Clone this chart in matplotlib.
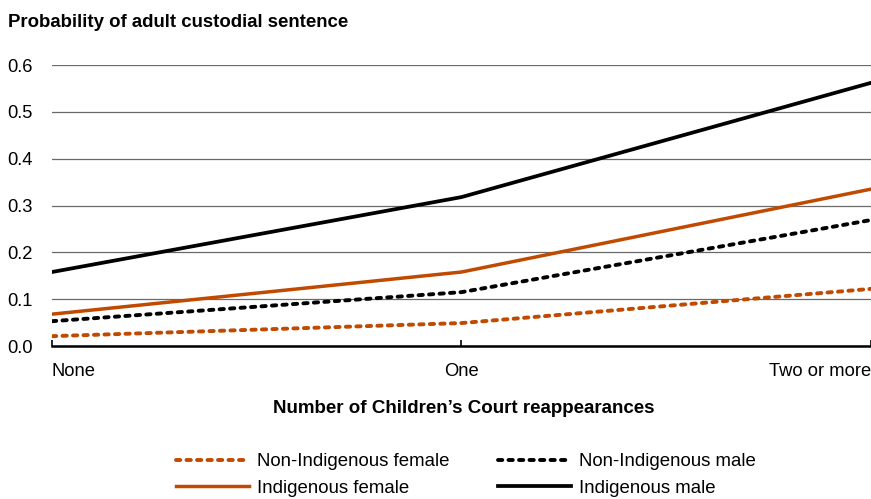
import matplotlib.pyplot as plt

plt.rcParams['font.family'] = ['Liberation Sans', 'DejaVu Sans']

categories = ['None', 'One', 'Two or more']
non_indig_female = [0.021, 0.049, 0.122]
non_indig_male = [0.053, 0.115, 0.269]
indig_female = [0.068, 0.158, 0.335]
indig_male = [0.158, 0.318, 0.562]

orange = '#C04A00'

fig = plt.figure(figsize=(8.71, 4.99), dpi=100)
ax = fig.add_axes([0.0597, 0.3066, 0.9403, 0.5631])

x = range(len(categories))
dots = (0, (1.1, 1.6))
ax.plot(x, non_indig_female, color=orange, lw=2.8, linestyle=dots, dash_capstyle='round',
        label='Non-Indigenous female')
ax.plot(x, non_indig_male, color='black', lw=2.8, linestyle=dots, dash_capstyle='round',
        label='Non-Indigenous male')
ax.plot(x, indig_female, color=orange, lw=2.5, label='Indigenous female')
ax.plot(x, indig_male, color='black', lw=2.7, label='Indigenous male')

ax.set_xlim(0, 2)
ax.set_ylim(0, 0.6)
ax.set_yticks([0, 0.1, 0.2, 0.3, 0.4, 0.5, 0.6])
ax.set_yticklabels(['0.0', '0.1', '0.2', '0.3', '0.4', '0.5', '0.6'], fontsize=13.2)
ax.yaxis.grid(True, color='#6a6a6a', lw=0.9)
ax.set_axisbelow(True)
ax.tick_params(axis='y', length=0, pad=32)
for lbl in ax.get_yticklabels():
    lbl.set_horizontalalignment('left')

ax.set_xticks(list(x))
ax.set_xticklabels(categories, fontsize=13.2)
ax.tick_params(axis='x', direction='in', length=4, width=1.2, pad=12)
labs = ax.get_xticklabels()
labs[0].set_horizontalalignment('left')
labs[2].set_horizontalalignment('right')

for s in ['top', 'right', 'left']:
    ax.spines[s].set_visible(False)
ax.spines['bottom'].set_linewidth(1.8)

fig.text(0.009, 0.955, 'Probability of adult custodial sentence', fontsize=13.4,
         fontweight='bold', va='center', ha='left')
fig.text(0.532, 0.182, 'Number of Children\u2019s Court reappearances', fontsize=13.5,
         fontweight='bold', va='center', ha='center')

handles, lbls = ax.get_legend_handles_labels()
order = [0, 2, 1, 3]
fig.legend([handles[i] for i in order], [lbls[i] for i in order], ncol=2,
           loc='center', bbox_to_anchor=(0.535, 0.048), frameon=False,
           fontsize=13.4, handlelength=3.9, handletextpad=0.45, columnspacing=2.6,
           labelspacing=0.5)

fig.savefig('out.png', dpi=100)
